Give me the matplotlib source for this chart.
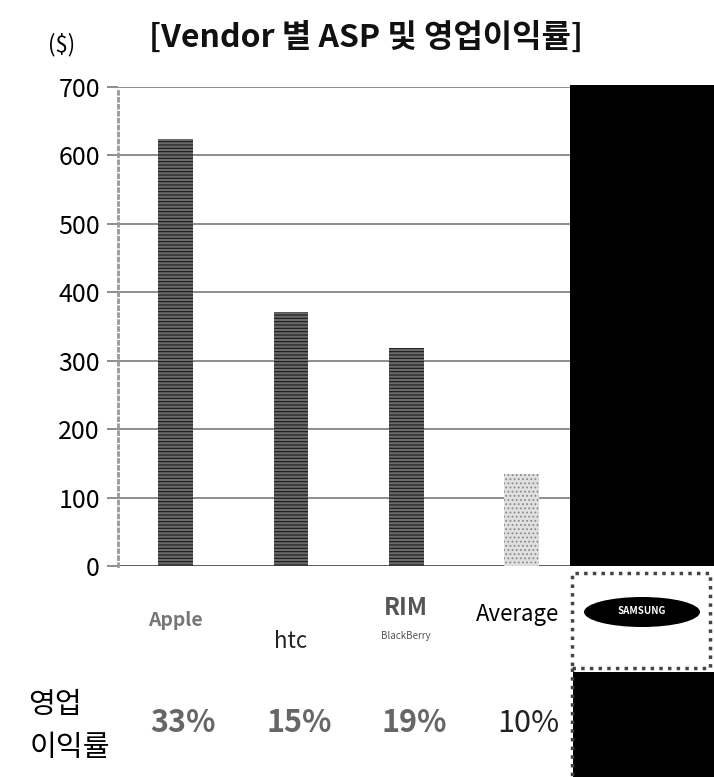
import numpy as np
import matplotlib.pyplot as plt
from matplotlib.patches import Rectangle, Ellipse

# Chart data
vendors = ['Apple', 'HTC', 'RIM', 'Average']
asp = [624, 371, 319, 134]
margins = ['33%', '15%', '19%', '10%']
yticks = [0, 100, 200, 300, 400, 500, 600, 700]

W, H = 714, 777
plt.rcParams['font.family'] = ['Noto Sans CJK KR', 'DejaVu Sans']

fig = plt.figure(figsize=(W / 100, H / 100), dpi=100)
fig.patch.set_facecolor('white')

def fx(px):
    return px / W

def fy(py):
    return 1 - py / H

# main axes: left spine at x=118, top gridline at y=87, zero at y=566
ax = fig.add_axes([fx(118), fy(566), fx(570 - 118), (566 - 87) / H])
x = np.arange(len(vendors))
plt.rcParams['hatch.linewidth'] = 0.8
for i in range(len(vendors)):
    if vendors[i] == 'Average':
        ax.bar(x[i], asp[i], width=0.3, facecolor='#e0e0e0', edgecolor='#8a8a8a',
               hatch='....', linewidth=0, zorder=3)
    else:
        ax.bar(x[i], asp[i], width=0.3, facecolor='#6a6a6a', edgecolor='#1a1a1a',
               hatch='-----', linewidth=0, zorder=3)

ax.set_xlim(-0.5, 3.42)
ax.set_ylim(0, 700)
ax.set_yticks(yticks)
ax.set_yticklabels([str(v) for v in yticks], fontsize=18)
ax.yaxis.grid(True, color='#7a7a7a', linewidth=1.2, zorder=1)
ax.tick_params(axis='y', length=8, width=1.2, color='#7a7a7a', pad=5)
ax.set_xticks([])
for s in ['top', 'right', 'bottom']:
    ax.spines[s].set_visible(False)
ax.spines['left'].set_linestyle((0, (1, 1.5)))
ax.spines['left'].set_color('#999999')
ax.spines['left'].set_linewidth(2)
ax.axhline(0, color='#555555', linewidth=1.2, zorder=2)

# titles
fig.text(fx(366), fy(38), '[Vendor 별 ASP 및 영업이익률]', fontsize=23,
         fontweight='bold', ha='center', va='center', color='#111111')
fig.text(fx(62), fy(45), '($)', fontsize=16, ha='center', va='center')

# vendor "logos" as text under the bars
xc = [175, 291, 406, 520]
fig.text(fx(xc[0]), fy(620), 'Apple', fontsize=14, color='#777777',
         ha='center', va='center', fontweight='bold')
fig.text(fx(xc[1]), fy(641), 'htc', fontsize=16, color='#222222',
         ha='center', va='center')
fig.text(fx(xc[2]), fy(608), 'RIM', fontsize=17, color='#555555',
         ha='center', va='center', fontweight='bold', style='italic')
fig.text(fx(xc[2]), fy(636), 'BlackBerry', fontsize=7, color='#555555',
         ha='center', va='center')
fig.text(fx(xc[3] - 2), fy(615), 'Average', fontsize=16, ha='center', va='center')

# operating margin row
fig.text(fx(55), fy(705), '영업', fontsize=21, ha='center', va='center')
fig.text(fx(70), fy(748), '이익률', fontsize=21, ha='center', va='center')
for i in range(len(margins)):
    w = 'bold' if i < 3 else 'normal'
    c = '#666666' if i < 3 else '#222222'
    fig.text(fx(xc[i] + 8), fy(723), margins[i], fontsize=22, ha='center',
             va='center', fontweight=w, color=c)

# masked Samsung column
fig.patches.append(Rectangle((fx(570), fy(566)), fx(144), (566 - 85) / H,
                             transform=fig.transFigure, facecolor='black',
                             edgecolor='none'))
fig.patches.append(Rectangle((fx(573), fy(777)), fx(141), (777 - 672) / H,
                             transform=fig.transFigure, facecolor='black',
                             edgecolor='none'))
fig.patches.append(Rectangle((fx(572), fy(668)), fx(138), (668 - 573) / H,
                             transform=fig.transFigure, facecolor='none',
                             edgecolor='#444444', linestyle=(0, (1, 1.5)),
                             linewidth=2.5))
fig.lines.append(plt.Line2D([fx(572), fx(572)], [fy(668), 0],
                            transform=fig.transFigure, color='#444444',
                            linestyle=(0, (1, 1.5)), linewidth=2.5))
fig.patches.append(Ellipse((fx(642), fy(612)), fx(116), 30 / H,
                           transform=fig.transFigure, facecolor='black',
                           edgecolor='none'))
fig.text(fx(642), fy(611), 'SAMSUNG', fontsize=7, color='white',
         fontweight='bold', ha='center', va='center')

fig.savefig('out.png', dpi=100)
